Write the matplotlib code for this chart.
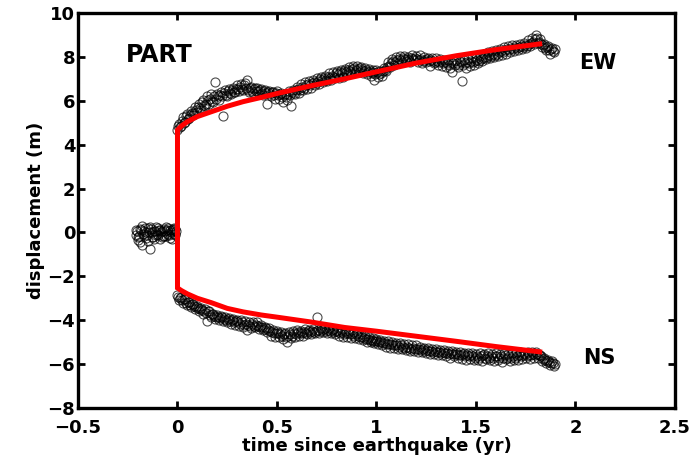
import matplotlib
matplotlib.use("Agg")
import matplotlib.pyplot as plt
import numpy as np

# daily GPS positions, site PART (time in yr since the quake, displacement in m)
pre_t = np.round(np.arange(-0.21, -0.005, 0.01), 2)
pre_ew = [-0.1, -0.35, 0.15, -0.55, 0.05, -0.25, 0.2, -0.75, 0.0, -0.3, 0.25,
          -0.1, 0.1, -0.2, 0.15, -0.15, 0.2, -0.25, 0.1, -0.05, 0.15]
pre_ns = [0.1, -0.2, -0.45, 0.3, -0.15, 0.0, -0.4, 0.25, -0.2, 0.05, -0.1,
          0.2, -0.3, 0.05, -0.15, 0.25, -0.05, 0.1, -0.3, 0.2, -0.1]
pre_t2 = np.round(np.arange(-0.205, 0.0, 0.01), 3)
pre_2 = [0.05, -0.15, 0.1, -0.05, 0.2, -0.1, 0.0, 0.15, -0.2, 0.05, -0.05,
         0.1, 0.0, -0.15, 0.05, 0.1, -0.1, 0.0, 0.15, -0.05, 0.05]

post_t = np.round(np.arange(0.0, 1.895, 0.01), 2)
ew = [4.65, 4.95, 4.85, 5.25, 5.05, 5.4, 5.2, 5.55, 5.35, 5.7,
      5.5, 5.85, 5.6, 6.05, 5.75, 6.2, 5.85, 6.3, 5.95, 6.85,
      6.3, 6.05, 6.4, 5.3, 6.5, 6.2, 6.55, 6.3, 6.6, 6.4,
      6.7, 6.45, 6.75, 6.5, 6.8, 6.95, 6.4, 6.65, 6.35, 6.6,
      6.6, 6.3, 6.55, 6.25, 6.5, 5.85, 6.45, 6.2, 6.4, 6.1,
      6.45, 6.1, 6.35, 5.95, 6.3, 6.05, 6.45, 5.75, 6.5, 6.3,
      6.65, 6.35, 6.75, 6.5, 6.85, 6.55, 6.9, 6.6, 6.95, 6.7,
      7.05, 6.75, 7.1, 6.85, 7.15, 6.9, 7.25, 6.95, 7.3, 7.05,
      7.35, 7.05, 7.4, 7.1, 7.45, 7.2, 7.55, 7.25, 7.6, 7.3,
      7.6, 7.3, 7.55, 7.25, 7.5, 7.2, 7.45, 7.15, 7.4, 6.95,
      7.4, 7.1, 7.35, 7.15, 7.5, 7.35, 7.75, 7.55, 7.9, 7.65,
      8.0, 7.7, 8.05, 7.75, 8.05, 7.8, 8.0, 7.75, 8.1, 7.85,
      8.05, 7.75, 8.1, 7.7, 8.0, 7.75, 7.95, 7.6, 7.95, 7.7,
      7.95, 7.65, 7.9, 7.6, 7.85, 7.55, 7.85, 7.5, 7.3, 7.8,
      7.85, 7.55, 7.8, 6.9, 7.85, 7.5, 7.9, 7.6, 7.95, 7.65,
      7.95, 7.7, 8.05, 7.8, 8.15, 7.9, 8.2, 7.95, 8.25, 8.0,
      8.3, 8.05, 8.35, 8.1, 8.45, 8.15, 8.5, 8.2, 8.55, 8.25,
      8.55, 8.3, 8.6, 8.35, 8.65, 8.4, 8.75, 8.5, 8.85, 8.6,
      9.0, 8.65, 8.8, 8.45, 8.6, 8.3, 8.5, 8.15, 8.4, 8.2]
ns = [-2.85, -3.1, -2.95, -3.2, -3.05, -3.3, -3.15, -3.4, -3.25, -3.5,
      -3.35, -3.6, -3.45, -3.7, -3.5, -4.05, -3.6, -3.85, -3.7, -3.95,
      -3.75, -4.0, -3.8, -4.05, -3.85, -4.1, -3.9, -4.15, -3.95, -4.2,
      -4.0, -4.25, -4.0, -4.3, -4.05, -4.45, -4.1, -4.35, -4.1, -4.3,
      -4.1, -4.4, -4.2, -4.45, -4.3, -4.55, -4.35, -4.7, -4.45, -4.75,
      -4.5, -4.75, -4.55, -4.85, -4.6, -5.0, -4.55, -4.8, -4.5, -4.75,
      -4.45, -4.7, -4.5, -4.7, -4.4, -4.65, -4.45, -4.65, -4.4, -4.6,
      -3.85, -4.6, -4.35, -4.55, -4.35, -4.6, -4.35, -4.6, -4.4, -4.65,
      -4.45, -4.7, -4.45, -4.75, -4.5, -4.75, -4.5, -4.8, -4.55, -4.8,
      -4.6, -4.85, -4.65, -4.9, -4.7, -5.0, -4.75, -5.0, -4.8, -5.05,
      -4.85, -5.1, -4.9, -5.15, -4.95, -5.2, -4.95, -5.25, -5.0, -5.25,
      -5.05, -5.3, -5.05, -5.3, -5.1, -5.35, -5.1, -5.4, -5.15, -5.4,
      -5.15, -5.45, -5.2, -5.45, -5.25, -5.5, -5.25, -5.55, -5.3, -5.55,
      -5.3, -5.6, -5.35, -5.6, -5.35, -5.65, -5.4, -5.7, -5.4, -5.65,
      -5.45, -5.7, -5.45, -5.75, -5.5, -5.8, -5.5, -5.75, -5.5, -5.8,
      -5.55, -5.8, -5.5, -5.85, -5.55, -5.75, -5.5, -5.8, -5.55, -5.85,
      -5.5, -5.8, -5.55, -5.9, -5.5, -5.75, -5.55, -5.85, -5.5, -5.8,
      -5.5, -5.8, -5.45, -5.75, -5.5, -5.7, -5.45, -5.75, -5.45, -5.7,
      -5.45, -5.7, -5.6, -5.85, -5.7, -5.95, -5.8, -6.05, -5.85, -6.1]

# second daily solution, half a step later
post_t2 = np.round(np.arange(0.005, 1.9, 0.01), 3)
ew2 = [4.85, 4.8, 5.1, 5.0, 5.3, 5.15, 5.35, 5.45, 5.45, 5.6,
       5.7, 5.65, 5.95, 5.8, 5.85, 6.05, 6.1, 6.0, 6.2, 6.1,
       6.2, 6.25, 6.2, 6.35, 6.25, 6.45, 6.35, 6.5, 6.4, 6.55,
       6.55, 6.65, 6.55, 6.7, 6.6, 6.5, 6.6, 6.45, 6.55, 6.45,
       6.45, 6.5, 6.35, 6.45, 6.35, 6.4, 6.3, 6.4, 6.25, 6.35,
       6.25, 6.3, 6.15, 6.25, 6.15, 6.3, 6.25, 6.4, 6.35, 6.5,
       6.55, 6.5, 6.65, 6.6, 6.7, 6.75, 6.7, 6.8, 6.85, 6.8,
       6.9, 7.0, 6.95, 7.05, 6.95, 7.1, 7.05, 7.15, 7.1, 7.25,
       7.2, 7.3, 7.25, 7.35, 7.3, 7.4, 7.35, 7.45, 7.5, 7.4,
       7.45, 7.5, 7.4, 7.35, 7.4, 7.3, 7.35, 7.25, 7.3, 7.2,
       7.3, 7.2, 7.25, 7.35, 7.4, 7.55, 7.6, 7.7, 7.8, 7.75,
       7.85, 7.9, 7.85, 7.95, 7.9, 7.9, 7.85, 7.95, 7.9, 7.95,
       7.9, 7.85, 7.9, 7.8, 7.85, 7.9, 7.8, 7.85, 7.8, 7.75,
       7.8, 7.75, 7.8, 7.7, 7.75, 7.7, 7.65, 7.75, 7.7, 7.65,
       7.7, 7.65, 7.75, 7.65, 7.7, 7.75, 7.7, 7.8, 7.75, 7.8,
       7.85, 7.8, 7.9, 7.95, 8.0, 8.0, 8.1, 8.05, 8.15, 8.1,
       8.15, 8.2, 8.25, 8.2, 8.3, 8.35, 8.3, 8.4, 8.35, 8.45,
       8.4, 8.45, 8.5, 8.45, 8.55, 8.5, 8.6, 8.65, 8.7, 8.8,
       8.85, 8.7, 8.6, 8.55, 8.4, 8.45, 8.3, 8.35, 8.25, 8.35]
ns2 = [-2.95, -3.0, -3.1, -3.05, -3.2, -3.15, -3.3, -3.25, -3.35, -3.4,
       -3.45, -3.5, -3.55, -3.6, -3.65, -3.6, -3.75, -3.7, -3.8, -3.85,
       -3.85, -3.9, -3.85, -3.95, -4.0, -3.95, -4.05, -4.0, -4.1, -4.05,
       -4.1, -4.15, -4.1, -4.2, -4.15, -4.2, -4.25, -4.15, -4.25, -4.2,
       -4.25, -4.3, -4.3, -4.4, -4.35, -4.45, -4.5, -4.55, -4.6, -4.6,
       -4.6, -4.65, -4.7, -4.65, -4.75, -4.7, -4.65, -4.7, -4.6, -4.65,
       -4.55, -4.6, -4.6, -4.55, -4.6, -4.5, -4.55, -4.5, -4.55, -4.5,
       -4.45, -4.5, -4.45, -4.4, -4.5, -4.45, -4.5, -4.45, -4.55, -4.5,
       -4.55, -4.6, -4.55, -4.65, -4.6, -4.6, -4.65, -4.65, -4.7, -4.65,
       -4.7, -4.75, -4.75, -4.8, -4.85, -4.85, -4.9, -4.9, -4.95, -4.95,
       -4.95, -5.0, -5.0, -5.05, -5.05, -5.1, -5.1, -5.1, -5.15, -5.15,
       -5.15, -5.2, -5.15, -5.2, -5.25, -5.2, -5.25, -5.3, -5.25, -5.3,
       -5.3, -5.3, -5.35, -5.3, -5.4, -5.35, -5.4, -5.4, -5.45, -5.4,
       -5.45, -5.45, -5.5, -5.45, -5.5, -5.5, -5.55, -5.5, -5.55, -5.55,
       -5.55, -5.6, -5.6, -5.55, -5.65, -5.6, -5.65, -5.6, -5.65, -5.7,
       -5.65, -5.7, -5.65, -5.6, -5.7, -5.65, -5.7, -5.65, -5.7, -5.65,
       -5.65, -5.7, -5.65, -5.7, -5.6, -5.7, -5.65, -5.7, -5.65, -5.7,
       -5.65, -5.6, -5.65, -5.6, -5.55, -5.65, -5.6, -5.6, -5.55, -5.6,
       -5.55, -5.6, -5.65, -5.75, -5.8, -5.85, -5.9, -5.95, -5.95, -6.0]

# model fit (red)
model_t = [0, 0.02, 0.05, 0.1, 0.17, 0.25, 0.33, 0.42, 0.5, 0.67, 0.84, 1.0, 1.2, 1.4, 1.6, 1.82]
model_ew = [4.67, 4.85, 5.05, 5.28, 5.5, 5.75, 5.96, 6.15, 6.33, 6.68, 7.0, 7.32, 7.72, 8.05, 8.33, 8.59]
model_ns = [-2.53, -2.65, -2.8, -3.0, -3.2, -3.46, -3.62, -3.76, -3.86, -4.08, -4.33, -4.5, -4.73, -4.96, -5.2, -5.44]

plt.rcParams['font.family'] = 'DejaVu Sans'
plt.rcParams['font.weight'] = 'bold'

fig = plt.figure(figsize=(6.92, 4.59), dpi=100)
ax = fig.add_axes([0.1127, 0.1111, 0.8627, 0.8606])

mk = dict(linestyle='none', marker='o', markersize=6.5, markerfacecolor='none',
          markeredgecolor=(0, 0, 0, 0.7), markeredgewidth=0.8)
ax.plot(pre_t, pre_ew, **mk)
ax.plot(pre_t, pre_ns, **mk)
ax.plot(pre_t2, pre_2, **mk)
ax.plot(post_t, ew, **mk)
ax.plot(post_t, ns, **mk)
ax.plot(post_t2, ew2, **mk)
ax.plot(post_t2, ns2, **mk)

line_t = np.concatenate([model_t[::-1], model_t])
line_y = np.concatenate([model_ns[::-1], model_ew])
ax.plot(line_t, line_y, color='red', linewidth=3.6, solid_joinstyle='miter')

ax.set_xlim(-0.5, 2.5)
ax.set_ylim(-8, 10)
ax.set_xticks([-0.5, 0, 0.5, 1, 1.5, 2, 2.5])
ax.set_xticklabels(['\u22120.5', '0', '0.5', '1', '1.5', '2', '2.5'])
ax.set_yticks(range(-8, 11, 2))
ax.set_yticklabels([str(v).replace('-', '\u2212') for v in range(-8, 11, 2)])
ax.tick_params(direction='in', length=5, width=2, labelsize=13,
               top=True, right=True)
ax.tick_params(axis='x', pad=8)
ax.tick_params(axis='y', pad=2)
for s in ax.spines.values():
    s.set_linewidth(2.4)

ax.set_xlabel('time since earthquake (yr)', fontsize=13, fontweight='bold', labelpad=0)
ax.set_ylabel('displacement (m)', fontsize=13, fontweight='bold', labelpad=2)

ax.text(-0.09, 8.1, 'PART', fontsize=17, fontweight='bold', ha='center', va='center')
ax.text(2.11, 7.74, 'EW', fontsize=15, fontweight='bold', ha='center', va='center')
ax.text(2.12, -5.7, 'NS', fontsize=15, fontweight='bold', ha='center', va='center')

fig.savefig('out.png', dpi=100)
